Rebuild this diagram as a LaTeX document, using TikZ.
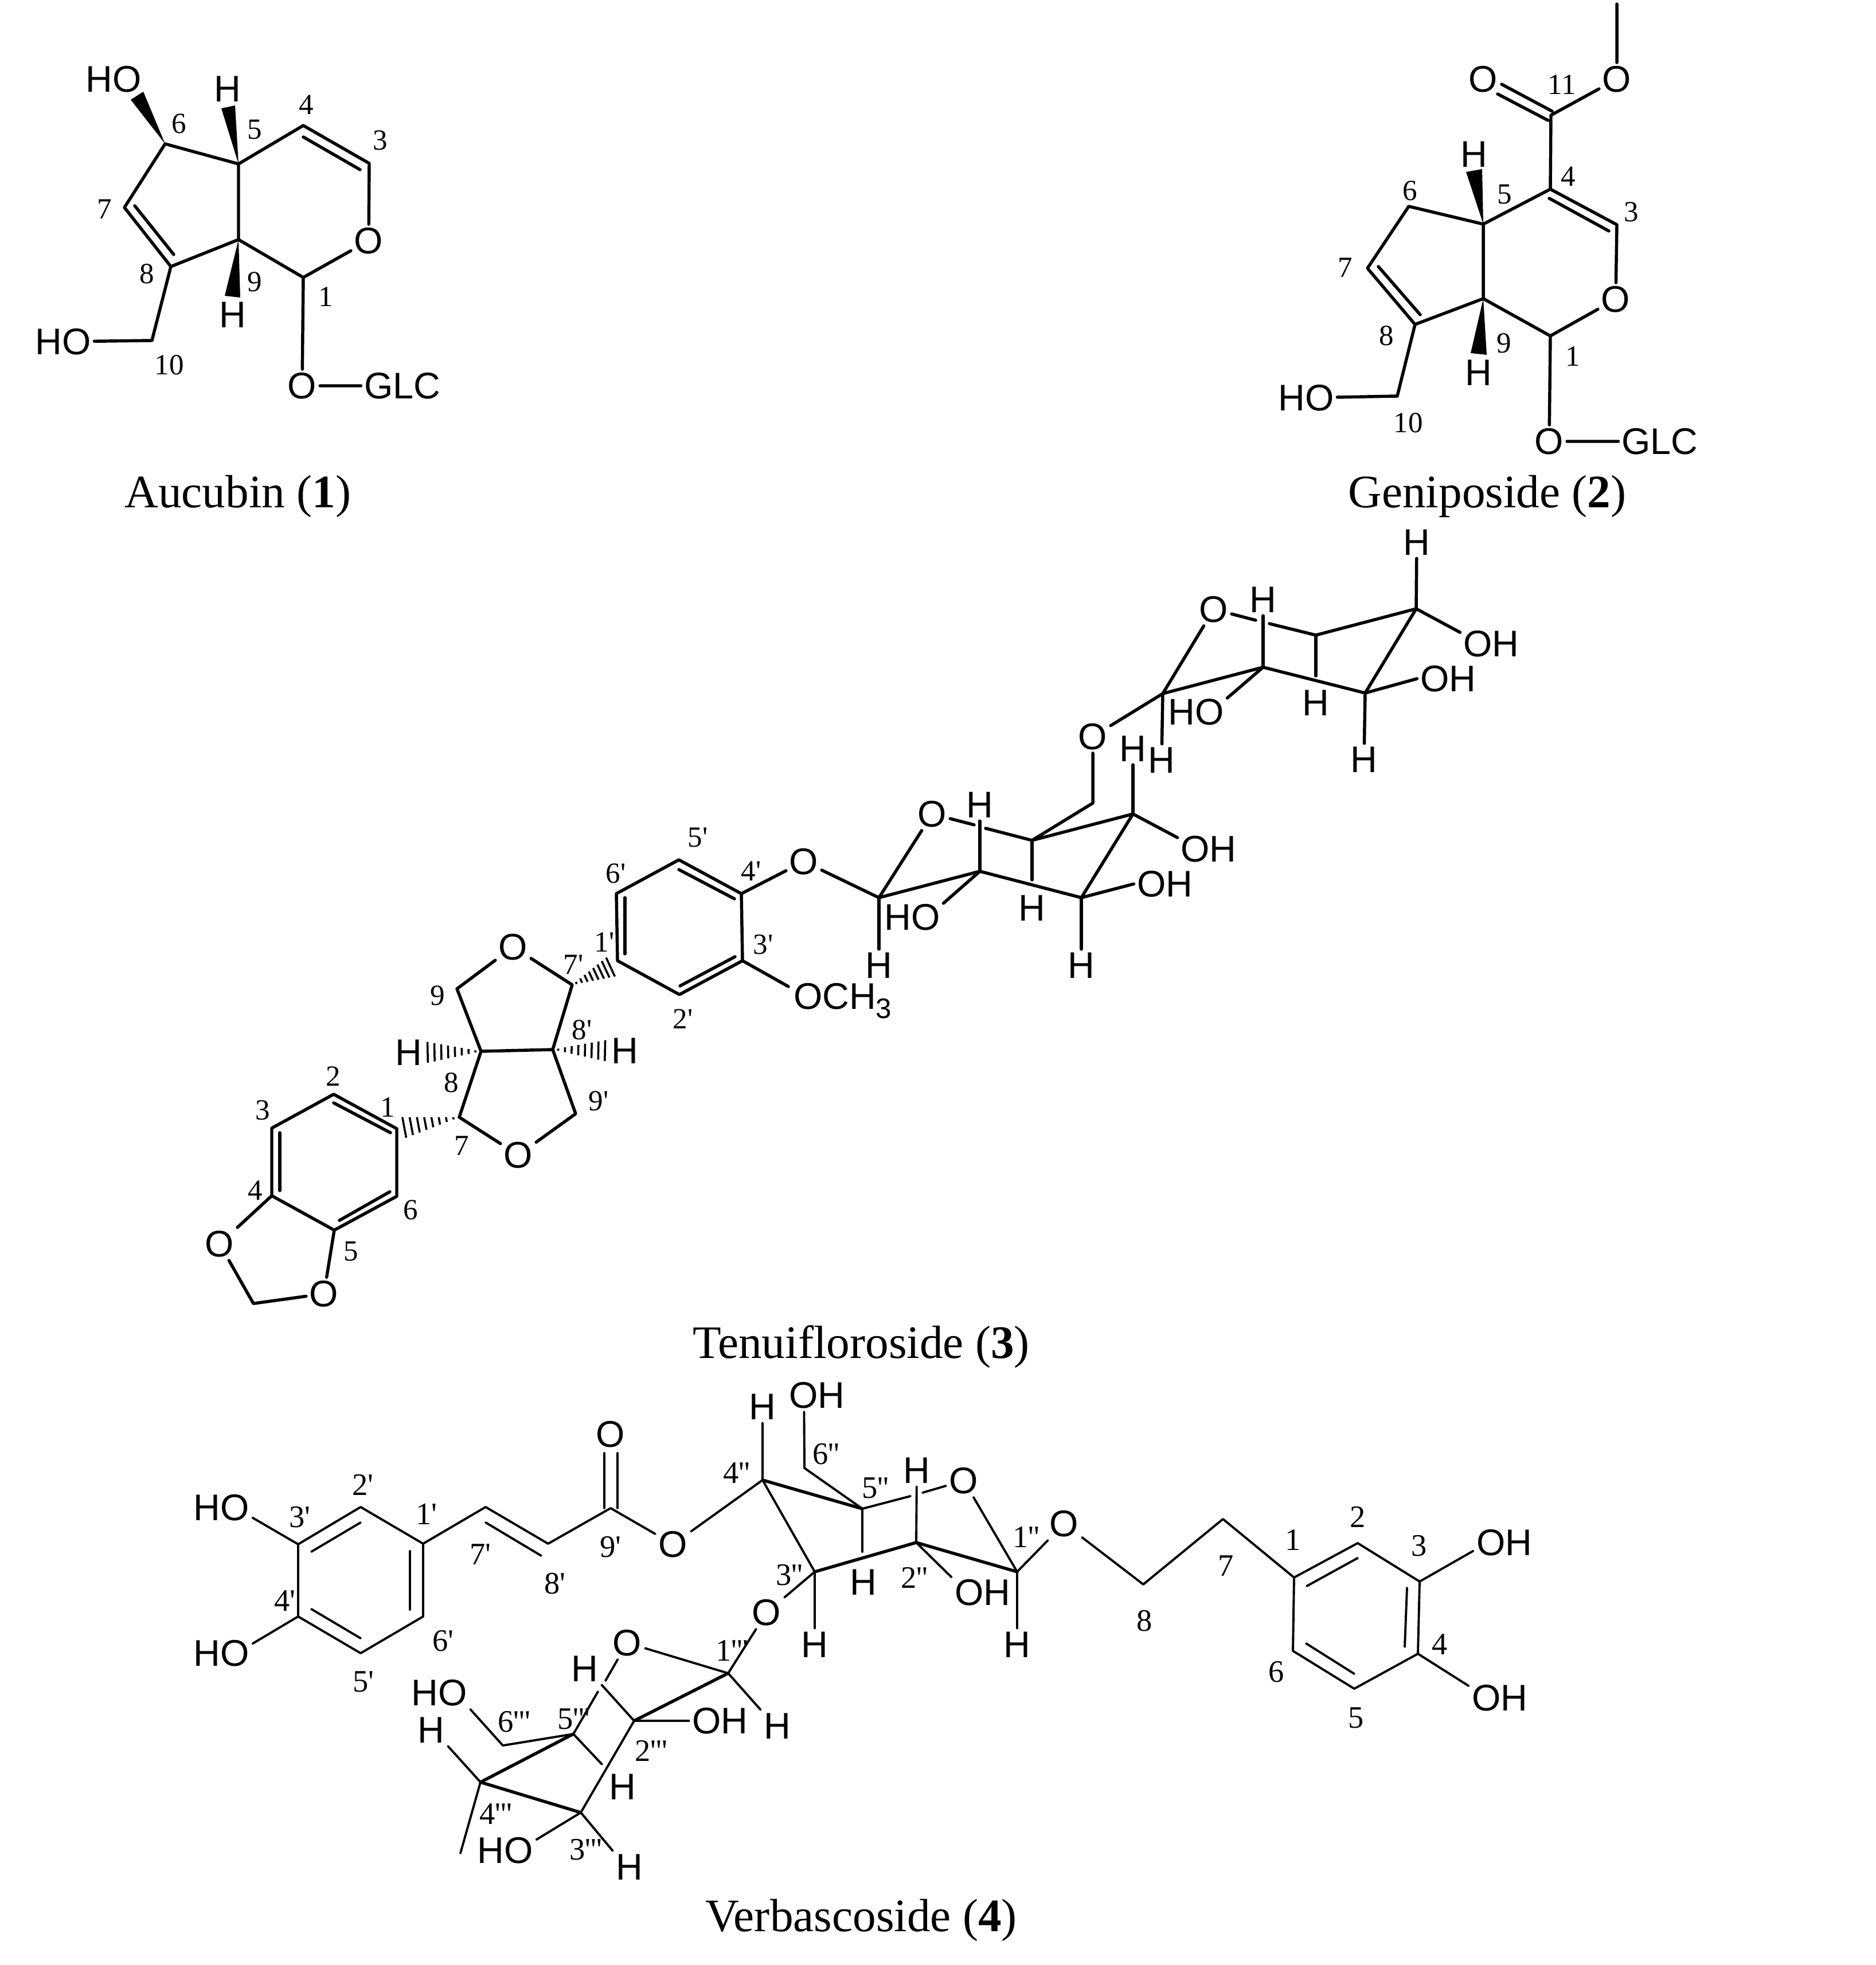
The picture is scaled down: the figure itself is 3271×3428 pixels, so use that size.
\documentclass[tikz,border=0pt]{standalone}
\usepackage{fontspec}
\setmainfont[Ligatures=NoCommon]{Liberation Serif}
\setsansfont{Liberation Sans}
\newfontfamily\numfont{Liberation Serif}
\usetikzlibrary{calc}
\tikzset{
    atom/.style={font=\sffamily\fontsize{18.4}{20}\selectfont,inner sep=1.5pt},
    num/.style={font=\numfont\fontsize{14.5}{15}\selectfont,inner sep=0pt},
    numb/.style={font=\numfont\fontsize{15.5}{16}\selectfont,inner sep=0pt},
    capt/.style={font=\fontsize{23.1}{24}\selectfont,inner sep=0pt},
    bond/.style={line width=1.55pt,line join=round,line cap=round},
    bondb/.style={line width=1.1pt,line join=round,line cap=round},
    hashline/.style={line width=1pt}
}
\newcommand{\hashbond}[3]{
    \foreach \t in {0.1,0.22,0.34,0.46,0.58,0.7,0.82,0.94}{
        \draw[hashline]($(#1)!\t!(#2)!\t*#3!90:(#2)$)--($(#1)!\t!(#2)!\t*#3!-90:(#2)$);
    }
}
\begin{document}
\begin{tikzpicture}[x=0.01cm,y=-0.01cm]
    \useasboundingbox (0,0) rectangle (3271,3428);

    % Aucubin
    \coordinate(aC1) at (529,484);
    \coordinate(aC3) at (644,285);
    \coordinate(aC4) at (529,219);
    \coordinate(aC5) at (416,286);
    \coordinate(aC6) at (288,251);
    \coordinate(aC7) at (217,362);
    \coordinate(aC8) at (298,465);
    \coordinate(aC9) at (416,418);
    \coordinate(aC10) at (265,594);
    \coordinate(aD1) at (529,239);
    \coordinate(aD2) at (628,296);
    \coordinate(aD3) at (235,359);
    \coordinate(aD4) at (303,444);
    \coordinate(aW1) at (228,174);
    \coordinate(aW2) at (250,160);
    \coordinate(aW3) at (386,189);
    \coordinate(aW4) at (410,184);
    \coordinate(aW5) at (392,516);
    \coordinate(aW6) at (419,519);
    \node[atom](aOr) at (643,420){O};
    \node[atom](aOg) at (527,673){O};
    \node[atom](aGlc) at (702,673){GLC};
    \node[atom](aHOa) at (198,138){HO};
    \node[atom](aHOb) at (110,596){HO};
    \node[atom](aHa) at (397,155){H};
    \node[atom](aHb) at (406,549){H};
    \draw[bond](aC4)--(aC3)--(aOr)--(aC1)--(aC9)--(aC5)--(aC4);
    \draw[bond](aC5)--(aC6)--(aC7)--(aC8)--(aC9);
    \draw[bond](aC8)--(aC10)--(aHOb);
    \draw[bond](aC1)--(aOg)--(aGlc);
    \draw[bond](aD1)--(aD2);
    \draw[bond](aD3)--(aD4);
    \fill(aC6)--(aW1)--(aW2)--cycle;
    \fill(aC5)--(aW3)--(aW4)--cycle;
    \fill(aC9)--(aW5)--(aW6)--cycle;
    \node[num](an1) at (568,518){1};
    \node[num](an3) at (663,245){3};
    \node[num](an4) at (534,183){4};
    \node[num](an5) at (444,226){5};
    \node[num](an6) at (312,216){6};
    \node[num](an7) at (182,365){7};
    \node[num](an8) at (256,478){8};
    \node[num](an9) at (444,492){9};
    \node[num](an10) at (295,637){10};
    \node[capt](aCap) at (415,866){Aucubin (\textbf{1})};

    % Geniposide
    \coordinate(gC1) at (2704,586);
    \coordinate(gC3) at (2820,392);
    \coordinate(gC4) at (2704,330);
    \coordinate(gC5) at (2587,391);
    \coordinate(gC6) at (2457,360);
    \coordinate(gC7) at (2385,468);
    \coordinate(gC8) at (2468,566);
    \coordinate(gC9) at (2587,521);
    \coordinate(gC10) at (2437,691);
    \coordinate(gC11) at (2705,201);
    \coordinate(gMe) at (2820,7);
    \coordinate(gD1) at (2702,346);
    \coordinate(gD2) at (2806,403);
    \coordinate(gD3) at (2404,465);
    \coordinate(gD4) at (2477,549);
    \coordinate(gD5) at (2619,147);
    \coordinate(gD6) at (2707,194);
    \coordinate(gD7) at (2612,164);
    \coordinate(gD8) at (2700,210);
    \coordinate(gW1) at (2557,300);
    \coordinate(gW2) at (2585,295);
    \coordinate(gW3) at (2565,616);
    \coordinate(gW4) at (2593,619);
    \node[atom](gOr) at (2818,522){O};
    \node[atom](gOg) at (2702,770){O};
    \node[atom](gGlc) at (2895,770){GLC};
    \node[atom](gOd) at (2587,138){O};
    \node[atom](gOe) at (2820,138){O};
    \node[atom](gHO) at (2278,694){HO};
    \node[atom](gHa) at (2571,269){H};
    \node[atom](gHb) at (2579,650){H};
    \draw[bond](gC4)--(gC3)--(gOr)--(gC1)--(gC9)--(gC5)--(gC4);
    \draw[bond](gC5)--(gC6)--(gC7)--(gC8)--(gC9);
    \draw[bond](gC8)--(gC10)--(gHO);
    \draw[bond](gC1)--(gOg)--(gGlc);
    \draw[bond](gC4)--(gC11)--(gOe)--(gMe);
    \draw[bond](gD1)--(gD2);
    \draw[bond](gD3)--(gD4);
    \draw[bond](gD5)--(gD6);
    \draw[bond](gD7)--(gD8);
    \fill(gC5)--(gW1)--(gW2)--cycle;
    \fill(gC9)--(gW3)--(gW4)--cycle;
    \node[num](gn1) at (2743,622){1};
    \node[num](gn3) at (2845,370){3};
    \node[num](gn4) at (2735,308){4};
    \node[num](gn5) at (2624,339){5};
    \node[num](gn6) at (2459,333){6};
    \node[num](gn7) at (2346,467){7};
    \node[num](gn8) at (2418,586){8};
    \node[num](gn9) at (2623,599){9};
    \node[num](gn10) at (2456,738){10};
    \node[num](gn11) at (2724,148){11};
    \node[capt](gCap) at (2594,866){Geniposide (\textbf{2})};

    % Tenuifloroside, aglycone
    \coordinate(tC1) at (692,1969);
    \coordinate(tC2) at (582,1909);
    \coordinate(tC3) at (474,1968);
    \coordinate(tC4) at (474,2086);
    \coordinate(tC5) at (583,2146);
    \coordinate(tC6) at (692,2087);
    \coordinate(tCm) at (442,2274);
    \coordinate(tC7) at (801,1949);
    \coordinate(tC8) at (839,1834);
    \coordinate(tC9) at (797,1725);
    \coordinate(tC7p) at (998,1718);
    \coordinate(tC8p) at (964,1831);
    \coordinate(tC9p) at (1004,1943);
    \coordinate(tC1p) at (1077,1676);
    \coordinate(tC2p) at (1185,1735);
    \coordinate(tC3p) at (1295,1676);
    \coordinate(tC4p) at (1293,1559);
    \coordinate(tC5p) at (1184,1500);
    \coordinate(tC6p) at (1075,1559);
    \coordinate(tOc) at (1375,1721);
    \coordinate(tHe1) at (699,1968);
    \coordinate(tHe2) at (740,1836);
    \coordinate(tHe3) at (1061,1833);
    \coordinate(tHe4) at (1069,1685);
    \coordinate(tD1) at (582,1924);
    \coordinate(tD2) at (681,1976);
    \coordinate(tD3) at (488,1976);
    \coordinate(tD4) at (488,2077);
    \coordinate(tD5) at (592,2129);
    \coordinate(tD6) at (680,2079);
    \coordinate(tD7) at (1184,1517);
    \coordinate(tD8) at (1281,1568);
    \coordinate(tD9) at (1090,1566);
    \coordinate(tD10) at (1090,1664);
    \coordinate(tD11) at (1186,1720);
    \coordinate(tD12) at (1282,1669);
    \node[atom](tOa) at (895,1652){O};
    \node[atom](tOb) at (904,2015){O};
    \node[atom](tOd) at (383,2170){O};
    \node[atom](tOe) at (565,2257){O};
    \node[atom](tOf) at (1402,1503){O};
    \node[atom,anchor=west](tOCH) at (1378,1746){OCH\raisebox{-0.25em}{\fontsize{14}{14}\selectfont 3}};
    \node[atom](tHa) at (713,1836){H};
    \node[atom](tHb) at (1090,1833){H};
    \draw[bond](tC1)--(tC2)--(tC3)--(tC4)--(tC5)--(tC6)--(tC1);
    \draw[bond](tC4)--(tOd)--(tCm)--(tOe)--(tC5);
    \draw[bond](tC9)--(tOa)--(tC7p)--(tC8p)--(tC8)--(tC9);
    \draw[bond](tC8)--(tC7)--(tOb)--(tC9p)--(tC8p);
    \draw[bond](tC1p)--(tC2p)--(tC3p)--(tC4p)--(tC5p)--(tC6p)--(tC1p);
    \draw[bond](tC4p)--(tOf);
    \draw[bond](tC3p)--(tOc);
    \draw[bond](tD1)--(tD2);
    \draw[bond](tD3)--(tD4);
    \draw[bond](tD5)--(tD6);
    \draw[bond](tD7)--(tD8);
    \draw[bond](tD9)--(tD10);
    \draw[bond](tD11)--(tD12);
    \hashbond{tC7}{tHe1}{5.5pt}
    \hashbond{tC8}{tHe2}{5.5pt}
    \hashbond{tC8p}{tHe3}{5.5pt}
    \hashbond{tC7p}{tHe4}{5.5pt}
    \node[num](tn1) at (676,1932){1};
    \node[num](tn2) at (581,1878){2};
    \node[num](tn3) at (458,1937){3};
    \node[num](tn4) at (445,2077){4};
    \node[num](tn5) at (612,2183){5};
    \node[num](tn6) at (716,2111){6};
    \node[num](tn7) at (805,1999){7};
    \node[num](tn8) at (787,1889){8};
    \node[num](tn9) at (763,1737){9};
    \node[num](tn1p) at (1054,1644){1'};
    \node[num](tn2p) at (1191,1778){2'};
    \node[num](tn3p) at (1331,1648){3'};
    \node[num](tn4p) at (1310,1520){4'};
    \node[num](tn5p) at (1217,1461){5'};
    \node[num](tn6p) at (1074,1524){6'};
    \node[num](tn7p) at (1000,1683){7'};
    \node[num](tn8p) at (1015,1797){8'};
    \node[num](tn9p) at (1044,1921){9'};
    \node[capt](tCap) at (1502,2350){Tenuifloroside (\textbf{3})};

    % Tenuifloroside, inner sugar
    \coordinate(sC1) at (1533,1566);
    \coordinate(sC2) at (1709,1520);
    \coordinate(sC3) at (1886,1566);
    \coordinate(sC4) at (1976,1420);
    \coordinate(sC5) at (1800,1466);
    \coordinate(sC6) at (1906,1401);
    \coordinate(sG1) at (1699,1439);
    \coordinate(sG2) at (1719,1445);
    \coordinate(sS) at (1800,1535);
    \node[atom](sOr) at (1626,1420){O};
    \node[atom](sOl) at (1906,1285){O};
    \node[atom](sHOa) at (1591,1600){HO};
    \node[atom](sOHa) at (2108,1481){OH};
    \node[atom](sOHb) at (2032,1542){OH};
    \node[atom](sHa) at (1709,1404){H};
    \node[atom](sHb) at (1976,1306){H};
    \node[atom](sHc) at (1800,1584){H};
    \node[atom](sHd) at (1886,1684){H};
    \node[atom](sHe) at (1533,1684){H};
    \draw[bond](tOf)--(sC1)--(sC2)--(sC3)--(sC4)--(sC5)--(sG2);
    \draw[bond](sC1)--(sOr)--(sG1);
    \draw[bond](sC5)--(sC6)--(sOl);
    \draw[bond](sC5)--(sS);
    \draw[bond](sC1)--(sHe);
    \draw[bond](sC2)--(sHa);
    \draw[bond](sC2)--(sHOa.24);
    \draw[bond](sC3)--(sHd);
    \draw[bond](sC3)--(sOHb.west);
    \draw[bond](sC4)--(sHb);
    \draw[bond](sC4)--(sOHa.160);

    % Tenuifloroside, outer sugar
    \coordinate(uC1) at (2028,1210);
    \coordinate(uC2) at (2203,1164);
    \coordinate(uC3) at (2381,1209);
    \coordinate(uC4) at (2470,1062);
    \coordinate(uC5) at (2295,1108);
    \coordinate(uG1) at (2190,1082);
    \coordinate(uG2) at (2214,1088);
    \coordinate(uS) at (2295,1179);
    \node[atom](uOr) at (2117,1063){O};
    \node[atom](uHO) at (2086,1242){HO};
    \node[atom](uOHa) at (2601,1123){OH};
    \node[atom](uOHb) at (2526,1184){OH};
    \node[atom](uHa) at (2203,1046){H};
    \node[atom](uHb) at (2471,946){H};
    \node[atom](uHc) at (2295,1226){H};
    \node[atom](uHd) at (2379,1325){H};
    \node[atom](uHe) at (2026,1326){H};
    \draw[bond](sOl)--(uC1)--(uC2)--(uC3)--(uC4)--(uC5)--(uG2);
    \draw[bond](uC1)--(uOr)--(uG1);
    \draw[bond](uC5)--(uS);
    \draw[bond](uC1)--(uHe);
    \draw[bond](uC2)--(uHa);
    \draw[bond](uC2)--(uHO.24);
    \draw[bond](uC3)--(uHd);
    \draw[bond](uC3)--(uOHb.west);
    \draw[bond](uC4)--(uHb);
    \draw[bond](uC4)--(uOHa.160);

    % Verbascoside, caffeoyl part
    \coordinate(vC1p) at (738,2693);
    \coordinate(vC2p) at (629,2629);
    \coordinate(vC3p) at (520,2694);
    \coordinate(vC4p) at (520,2820);
    \coordinate(vC5p) at (629,2884);
    \coordinate(vC6p) at (738,2820);
    \coordinate(vC7p) at (847,2629);
    \coordinate(vC8p) at (956,2693);
    \coordinate(vC9p) at (1065,2631);
    \coordinate(vD1) at (629,2656);
    \coordinate(vD2) at (543,2707);
    \coordinate(vD3) at (715,2706);
    \coordinate(vD4) at (715,2808);
    \coordinate(vD5) at (543,2807);
    \coordinate(vD6) at (629,2858);
    \coordinate(vD7) at (847,2656);
    \coordinate(vD8) at (944,2714);
    \coordinate(vD9) at (1054,2535);
    \coordinate(vD10) at (1054,2631);
    \coordinate(vD11) at (1077,2535);
    \coordinate(vD12) at (1077,2631);
    \node[atom](vHOa) at (386,2630){HO};
    \node[atom](vHOb) at (386,2884){HO};
    \node[atom](vOd) at (1065,2502){O};
    \node[atom](vOe) at (1174,2694){O};
    \draw[bondb](vC1p)--(vC2p)--(vC3p)--(vC4p)--(vC5p)--(vC6p)--(vC1p);
    \draw[bondb](vC1p)--(vC7p)--(vC8p)--(vC9p)--(vOe);
    \draw[bondb](vC3p)--(vHOa.-18);
    \draw[bondb](vC4p)--(vHOb.17);
    \draw[bondb](vD1)--(vD2);
    \draw[bondb](vD3)--(vD4);
    \draw[bondb](vD5)--(vD6);
    \draw[bondb](vD7)--(vD8);
    \draw[bondb](vD9)--(vD10);
    \draw[bondb](vD11)--(vD12);
    \node[numb](vn1p) at (744,2641){1'};
    \node[numb](vn2p) at (633,2590){2'};
    \node[numb](vn3p) at (523,2647){3'};
    \node[numb](vn4p) at (497,2793){4'};
    \node[numb](vn5p) at (634,2934){5'};
    \node[numb](vn6p) at (773,2863){6'};
    \node[numb](vn7p) at (838,2712){7'};
    \node[numb](vn8p) at (968,2763){8'};
    \node[numb](vn9p) at (1065,2699){9'};

    % Verbascoside, glucose part
    \coordinate(wC1) at (1774,2742);
    \coordinate(wC2) at (1598,2691);
    \coordinate(wC3) at (1421,2742);
    \coordinate(wC4) at (1330,2582);
    \coordinate(wC5) at (1504,2632);
    \coordinate(wC6) at (1403,2561);
    \coordinate(wG1) at (1588,2610);
    \coordinate(wG2) at (1609,2604);
    \coordinate(wS) at (1504,2707);
    \node[atom](wOr) at (1681,2583){O};
    \node[atom](wOl) at (1337,2813){O};
    \node[atom](wOa) at (1856,2658){O};
    \node[atom](wOHa) at (1425,2434){OH};
    \node[atom](wOHb) at (1714,2778){OH};
    \node[atom](wHa) at (1330,2454){H};
    \node[atom](wHb) at (1599,2565){H};
    \node[atom](wHc) at (1506,2760){H};
    \node[atom](wHd) at (1421,2869){H};
    \node[atom](wHe) at (1774,2869){H};
    \draw[bondb](vOe)--(wC4)--(wHa);
    \draw[bondb](wC4)--(wC3)--(wHd);
    \draw[bond](wC4)--(wC5);
    \draw[bond](wC3)--(wC2)--(wC1);
    \draw[bondb](wC5)--(wC6)--(wOHa.-128);
    \draw[bondb](wC5)--(wG1);
    \draw[bondb](wOr)--(wG2);
    \draw[bondb](wOr)--(wC1)--(wHe);
    \draw[bondb](wC5)--(wS);
    \draw[bondb](wC2)--(wHb);
    \draw[bondb](wC2)--(wOHb.154);
    \draw[bondb](wC3)--(wOl);
    \draw[bondb](wC1)--(wOa);
    \node[numb](wn1) at (1790,2681){1''};
    \node[numb](wn2) at (1595,2752){2''};
    \node[numb](wn3) at (1377,2748){3''};
    \node[numb](wn4) at (1285,2570){4''};
    \node[numb](wn5) at (1527,2596){5''};
    \node[numb](wn6) at (1441,2537){6''};

    % Verbascoside, phenylethyl part
    \coordinate(xC1) at (2257,2752);
    \coordinate(xC2) at (2368,2692);
    \coordinate(xC3) at (2476,2759);
    \coordinate(xC4) at (2473,2885);
    \coordinate(xC5) at (2362,2946);
    \coordinate(xC6) at (2255,2880);
    \coordinate(xC7) at (2133,2650);
    \coordinate(xC8) at (1994,2764);
    \coordinate(xD1) at (2279,2767);
    \coordinate(xD2) at (2368,2718);
    \coordinate(xD3) at (2454,2770);
    \coordinate(xD4) at (2450,2873);
    \coordinate(xD5) at (2278,2867);
    \coordinate(xD6) at (2362,2920);
    \node[atom](xOHa) at (2624,2691){OH};
    \node[atom](xOHb) at (2616,2962){OH};
    \draw[bondb](wOa)--(xC8)--(xC7)--(xC1);
    \draw[bondb](xC1)--(xC2)--(xC3)--(xC4)--(xC5)--(xC6)--(xC1);
    \draw[bondb](xC3)--(xOHa.195);
    \draw[bondb](xC4)--(xOHb.159);
    \draw[bondb](xD1)--(xD2);
    \draw[bondb](xD3)--(xD4);
    \draw[bondb](xD5)--(xD6);
    \node[numb](xn1) at (2255,2686){1};
    \node[numb](xn2) at (2368,2646){2};
    \node[numb](xn3) at (2475,2697){3};
    \node[numb](xn4) at (2511,2869){4};
    \node[numb](xn5) at (2365,2997){5};
    \node[numb](xn6) at (2226,2917){6};
    \node[numb](xn7) at (2138,2732){7};
    \node[numb](xn8) at (1996,2828){8};

    % Verbascoside, rhamnose part
    \coordinate(yC1) at (1270,2919);
    \coordinate(yC2) at (1106,3002);
    \coordinate(yC3) at (1013,3162);
    \coordinate(yC4) at (838,3109);
    \coordinate(yC5) at (1000,3025);
    \coordinate(yC6) at (877,3045);
    \coordinate(yG1) at (1056,2932);
    \coordinate(yG2) at (1043,2951);
    \coordinate(yS) at (1050,3078);
    \coordinate(yMe) at (803,3233);
    \node[atom](yOr) at (1094,2866){O};
    \node[atom](yOH) at (1256,3002){OH};
    \node[atom](yHOa) at (766,2953){HO};
    \node[atom](yHOb) at (881,3228){HO};
    \node[atom](yHa) at (1356,3011){H};
    \node[atom](yHb) at (1020,2911){H};
    \node[atom](yHc) at (752,3018){H};
    \node[atom](yHd) at (1086,3117){H};
    \node[atom](yHe) at (1098,3257){H};
    \draw[bondb](wOl)--(yC1);
    \draw[bond](yC1)--(yC2);
    \draw[bondb](yC1)--(yOr)--(yG1);
    \draw[bondb](yC1)--(yHa.north west);
    \draw[bondb](yC2)--(yOH.west);
    \draw[bondb](yC2)--(yHb.south east);
    \draw[bondb](yC2)--(yC3);
    \draw[bond](yC3)--(yC4)--(yC5);
    \draw[bondb](yC5)--(yG2);
    \draw[bondb](yC5)--(yS);
    \draw[bondb](yC5)--(yC6)--(yHOa.-28);
    \draw[bondb](yC4)--(yHc.south east);
    \draw[bondb](yC4)--(yMe);
    \draw[bondb](yC3)--(yHOb.19);
    \draw[bondb](yC3)--(yHe.north west);
    \node[numb](yn1) at (1277,2879){1'''};
    \node[numb](yn2) at (1136,3054){2'''};
    \node[numb](yn3) at (1022,3227){3'''};
    \node[numb](yn4) at (865,3165){4'''};
    \node[numb](yn5) at (1001,2999){5'''};
    \node[numb](yn6) at (897,3004){6'''};
    \node[capt](vCap) at (1502,3350){Verbascoside (\textbf{4})};
\end{tikzpicture}
\end{document}
